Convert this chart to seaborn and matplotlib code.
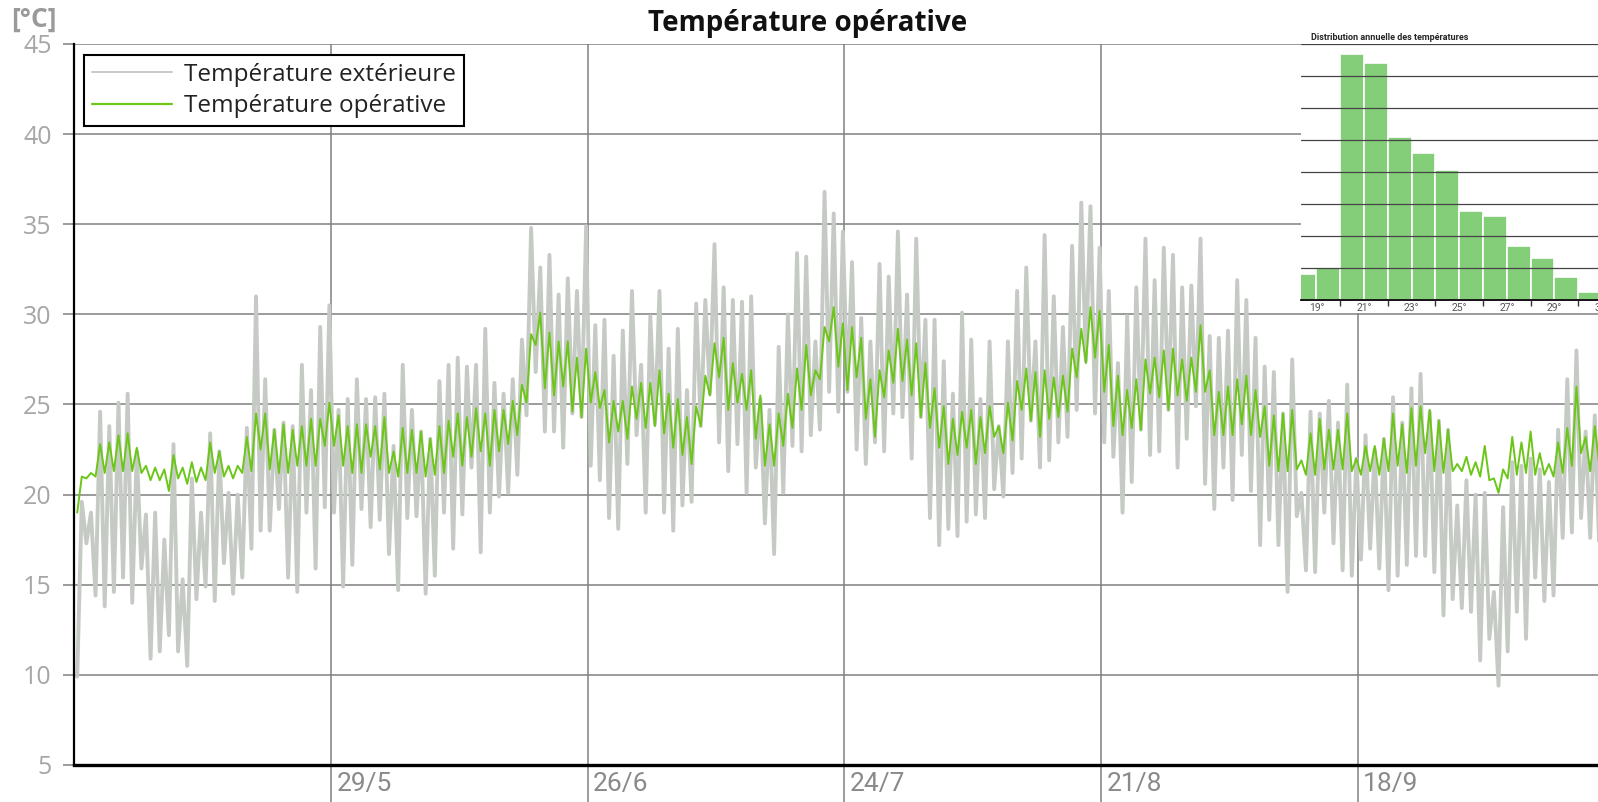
import numpy as np
import pandas as pd
import matplotlib
matplotlib.use('Agg')
import matplotlib.pyplot as plt
import matplotlib.transforms as mtransforms
from matplotlib.patches import Rectangle
from matplotlib.lines import Line2D
import seaborn as sns

# daily extremes, day 0 = 1 May
ext_min = [
    9.9, 17.3, 14.4, 13.8, 14.6, 15.4, 14.0, 15.9, 10.9, 11.3,
    12.2, 11.3, 10.5, 14.2, 14.9, 14.1, 16.2, 14.5, 15.4, 17.0,
    18.0, 18.0, 19.2, 15.4, 14.6, 19.0, 15.9, 19.3, 19.0, 14.9,
    16.1, 19.2, 18.2, 18.6, 16.7, 14.7, 18.7, 18.8, 14.5, 15.5,
    19.0, 17.0,
    18.9, 21.5, 16.8, 19.0, 19.9, 20.1, 21.1, 24.4, 26.8, 23.5,
    23.5, 22.6, 24.5, 24.3, 21.6, 20.8, 18.7, 18.1, 21.7, 23.3,
    19.0, 23.9, 19.0, 18.0, 19.4, 19.6, 23.8, 25.6, 22.9, 21.3,
    22.8, 20.1, 21.5, 18.4, 16.7, 20.1, 22.7, 22.4, 23.3, 23.6,
    25.7,
    24.6, 25.7, 22.5, 21.7, 22.9, 22.4, 24.5, 24.3, 22.0, 24.3,
    18.7, 17.2, 18.1, 17.7, 18.5, 18.9, 18.7, 20.3, 19.9, 21.2,
    22.0, 24.1, 21.5, 21.9, 22.9, 23.2, 24.7, 27.4, 24.5, 22.9,
    22.1, 19.0, 20.7, 23.6, 22.2, 22.4, 24.7, 21.5, 23.1, 24.9,
    20.6, 19.2,
    21.5, 19.7, 22.2, 20.2, 17.2, 18.6, 17.2, 14.6, 18.8, 15.8,
    15.7, 19.0, 17.3, 15.8, 15.5, 16.4, 17.0, 15.9, 14.7, 15.5,
    16.1, 16.6, 16.6, 15.7, 13.3, 14.2, 13.7, 13.5, 10.8, 12.0,
    9.4, 11.3, 13.5, 12.0, 15.4, 14.1, 14.4, 17.6, 17.9, 18.7,
    17.6, 16.8,
]
ext_max = [
    19.6, 19.0, 24.6, 23.8, 25.1, 25.6, 22.4, 18.9, 19.0, 17.5,
    22.8, 15.3, 20.9, 19.0, 23.4, 22.4, 20.1, 20.0, 23.7, 31.0,
    26.4, 23.6, 24.0, 23.8, 27.2, 25.8, 29.3, 30.5, 24.7, 25.3,
    26.4, 25.3, 25.4, 25.6, 22.7, 27.2, 24.7, 23.5, 23.1, 26.3,
    27.2, 27.6,
    27.1, 27.2, 29.2, 26.2, 25.6, 26.4, 28.6, 34.8, 32.6, 33.3,
    31.1, 32.0, 31.3, 34.9, 29.4, 29.7, 27.7, 29.1, 31.3, 27.2,
    29.9, 31.3, 28.1, 29.2, 25.8, 30.6, 30.8, 33.9, 31.5, 30.8,
    30.7, 31.0, 25.3, 24.7, 28.2, 30.0, 33.4, 33.2, 28.5, 36.8,
    35.6,
    34.6, 32.9, 29.8, 28.5, 32.8, 32.1, 34.6, 31.1, 34.2, 29.7,
    29.7, 27.4, 25.6, 30.1, 28.6, 25.3, 28.5, 23.8, 28.5, 31.3,
    32.6, 28.5, 34.4, 31.0, 29.3, 33.8, 36.2, 36.0, 33.7, 31.3,
    27.3, 29.9, 31.5, 34.2, 31.9, 33.7, 33.3, 31.5, 31.6, 34.2,
    28.8, 28.7,
    29.1, 31.9, 30.8, 28.7, 27.1, 26.8, 24.5, 27.5, 20.1, 24.6,
    24.5, 25.2, 24.0, 26.1, 22.0, 23.3, 22.5, 23.1, 25.4, 24.0,
    25.9, 26.7, 24.6, 24.1, 23.6, 19.4, 20.8, 20.0, 20.1, 14.6,
    19.3, 21.8, 21.6, 22.0, 21.4, 20.7, 23.6, 26.4, 28.0, 23.5,
    24.4, 22.0,
]
op_min = [
    19.0, 20.9, 21.0, 21.2, 21.3, 21.3, 21.3, 21.2, 20.8, 20.8,
    20.2, 20.9, 20.6, 20.7, 20.8, 21.2, 21.0, 20.9, 21.2, 21.3,
    22.5, 21.4, 21.2, 21.2, 21.6, 21.6, 21.6, 22.7, 22.7, 21.6,
    21.2, 21.2, 22.1, 21.4, 21.2, 21.0, 21.2, 21.2, 21.0, 21.1,
    21.2, 22.1,
    21.6, 22.1, 22.4, 21.6, 22.4, 22.8, 23.3, 25.1, 28.3, 25.9,
    25.5, 26.0, 24.6, 24.3, 25.1, 24.8, 22.9, 23.5, 23.1, 24.2,
    23.7, 23.8, 23.4, 22.6, 22.2, 21.7, 23.8, 25.5, 26.5, 24.7,
    25.1, 24.7, 23.1, 21.6, 21.6, 22.7, 23.7, 24.7, 25.5, 26.4,
    28.5,
    27.1, 25.8, 26.5, 24.2, 23.2, 25.4, 26.2, 26.3, 25.5, 24.3,
    23.7, 22.6, 21.7, 22.2, 22.6, 21.7, 22.3, 23.2, 22.3, 23.0,
    24.7, 24.1, 23.2, 24.2, 24.3, 24.6, 26.5, 27.3, 27.6, 25.7,
    23.8, 23.3, 23.7, 23.6, 25.6, 25.4, 24.7, 25.5, 25.2, 25.7,
    25.7, 23.3,
    23.3, 23.3, 23.9, 23.3, 23.2, 21.6, 21.3, 21.3, 21.4, 21.1,
    21.1, 21.4, 21.4, 21.4, 21.3, 21.1, 21.3, 21.1, 21.3, 21.6,
    21.2, 21.6, 22.3, 21.3, 21.2, 21.3, 21.3, 21.1, 21.0, 20.8,
    20.1, 20.9, 21.1, 21.2, 21.1, 21.1, 21.0, 21.2, 21.6, 22.3,
    21.3, 21.6,
]
op_max = [
    21.0, 21.2, 22.8, 22.9, 23.3, 23.4, 22.6, 21.6, 21.5, 21.4,
    22.2, 21.5, 21.8, 21.5, 22.9, 22.4, 21.6, 21.6, 23.2, 24.5,
    24.5, 23.6, 23.9, 23.6, 23.8, 24.2, 24.2, 25.1, 24.4, 23.8,
    23.9, 23.9, 23.8, 24.3, 22.4, 23.7, 23.6, 23.5, 23.1, 23.8,
    24.1, 24.5,
    24.3, 24.8, 24.5, 24.7, 24.7, 25.2, 26.1, 28.9, 30.1, 29.0,
    28.5, 28.5, 27.6, 28.1, 26.8, 25.8, 25.2, 25.2, 26.0, 26.2,
    26.2, 26.9, 25.6, 25.3, 24.3, 24.9, 26.6, 28.4, 28.7, 27.3,
    26.7, 26.9, 25.5, 23.9, 24.5, 25.6, 27.0, 28.3, 26.9, 29.3,
    30.4,
    29.5, 29.3, 28.7, 26.4, 26.9, 28.0, 29.2, 28.6, 28.4, 27.3,
    25.9, 24.9, 24.2, 24.6, 24.7, 24.3, 24.9, 23.8, 25.1, 26.3,
    27.0, 26.8, 26.9, 26.5, 26.6, 28.1, 29.2, 30.4, 30.2, 28.3,
    26.6, 25.8, 26.4, 27.5, 27.6, 28.0, 28.1, 27.5, 27.6, 29.4,
    26.9, 25.7,
    26.0, 26.4, 26.6, 25.8, 24.9, 24.4, 24.5, 24.7, 21.9, 23.4,
    24.2, 23.6, 23.6, 24.5, 22.0, 22.7, 22.7, 23.1, 24.5, 23.9,
    24.8, 24.9, 24.7, 24.1, 23.6, 21.7, 22.1, 21.8, 22.7, 20.9,
    21.4, 23.2, 22.9, 23.5, 22.3, 21.7, 22.9, 23.7, 26.0, 23.2,
    23.8, 23.0,
]

tick_dates = ['2023-05-29', '2023-06-26', '2023-07-24', '2023-08-21', '2023-09-18']
tick_labels = ['29/5', '26/6', '24/7', '21/8', '18/9']

# annual distribution inset (hours per 1 degree bin)
hist_left = [18, 19, 20, 21, 22, 23, 24, 25, 26, 27, 28, 29, 30, 31]
hist_hours = [80, 99, 768, 740, 508, 458, 406, 278, 263, 169, 130, 71, 26, 8]

label_ext = 'Température extérieure'
label_op = 'Température opérative'
c_ext = '#c6cac5'
c_op = '#6cc61a'

start = pd.Timestamp('2023-05-01')
rows = []
for d in range(len(ext_min)):
    t_lo = start + pd.Timedelta(days=d + 0.35)
    t_hi = start + pd.Timedelta(days=d + 0.85)
    rows.append((t_lo, ext_min[d], label_ext))
    rows.append((t_hi, ext_max[d], label_ext))
    rows.append((t_lo, op_min[d], label_op))
    rows.append((t_hi, op_max[d], label_op))
df = pd.DataFrame(rows, columns=['time', 'temp', 'serie'])

sns.set_theme(style='white')
plt.rcParams['font.family'] = ['Roboto', 'DejaVu Sans']

W, H = 1598, 802
fig = plt.figure(figsize=(W / 100, H / 100), dpi=100)
ax = fig.add_axes([74 / W, 1 - 765 / H, 1524 / W, 721 / H])

sns.lineplot(data=df[df['serie'] == label_ext], x='time', y='temp', color=c_ext,
             linewidth=2.8, estimator=None, ax=ax, zorder=2)
sns.lineplot(data=df[df['serie'] == label_op], x='time', y='temp', color=c_op,
             linewidth=1.4, estimator=None, ax=ax, zorder=3)

ax.set_xlim(start, start + pd.Timedelta(days=166.2))
ax.set_ylim(5, 45)
ax.set_yticks(range(5, 46, 5))
ax.set_xticks(pd.to_datetime(tick_dates))
ax.set_xticklabels(tick_labels)
ax.set_xlabel('')
ax.set_ylabel('')
ax.grid(True, color='#808080', linewidth=1.1)
ax.set_axisbelow(True)

for s in ['top', 'right']:
    ax.spines[s].set_visible(False)
ax.spines['left'].set_color('black')
ax.spines['left'].set_linewidth(1.6)
ax.spines['bottom'].set_color('black')
ax.spines['bottom'].set_linewidth(2.4)

ax.tick_params(axis='y', direction='out', length=8, width=1.1, color='#808080',
               labelsize=18, labelcolor='#a6a6a6', pad=8, left=True)
ax.tick_params(axis='x', direction='out', length=27, width=1.1, color='#808080',
               labelsize=19, labelcolor='#8a8a8a', pad=-22, bottom=True)
for lbl in ax.get_yticklabels():
    lbl.set_fontfamily(['Open Sans', 'DejaVu Sans'])
offset = mtransforms.ScaledTranslation(4 / 72, 0, fig.dpi_scale_trans)
for lbl in ax.get_xticklabels():
    lbl.set_horizontalalignment('left')
    lbl.set_transform(lbl.get_transform() + offset)

handles = [Line2D([], [], color=c_ext, lw=1.4), Line2D([], [], color=c_op, lw=1.6)]
leg = ax.legend(handles, [label_ext, label_op], loc='upper left',
                bbox_to_anchor=(84 / W, 1 - 55 / H), bbox_transform=fig.transFigure,
                borderaxespad=0, fancybox=False, framealpha=1,
                prop={'family': ['Open Sans', 'DejaVu Sans'], 'size': 17.5},
                handlelength=3.3, borderpad=0.32, labelspacing=0.3, handletextpad=0.5)
leg.get_frame().set_edgecolor('black')
leg.get_frame().set_linewidth(1.5)
for txt in leg.get_texts():
    txt.set_color('#222222')

fig.text(808 / W, 1 - 23 / H, 'Température opérative', ha='center', va='center',
         fontsize=20, fontweight='bold', color='#111111',
         family=['Open Sans', 'DejaVu Sans'])
fig.text(11 / W, 1 - 19 / H, '[°C]', ha='left', va='center', fontsize=19,
         fontweight='bold', color='#9a9a9a', family=['Open Sans', 'DejaVu Sans'])

# inset histogram
fig.patches.append(Rectangle((1301 / W, 1 - 313 / H), (W - 1301) / W, 14 / H,
                             transform=fig.transFigure, facecolor='white',
                             edgecolor='none', zorder=1))
x0, x1 = 18.35, 33.0
axin = fig.add_axes([1301 / W, 1 - 300 / H, (x1 - x0) * 23.8 / W, 256 / H], zorder=2)
axin.set_facecolor('white')
sns.histplot(x=[b + 0.5 for b in hist_left], weights=hist_hours,
             bins=hist_left + [hist_left[-1] + 1], color='#84cd79', edgecolor='white',
             linewidth=1.2, alpha=1, ax=axin)
axin.set_xlim(x0, x1)
axin.set_ylim(0, 800)
axin.set_yticks(range(0, 801, 100))
axin.set_yticklabels([])
axin.set_ylabel('')
axin.grid(True, axis='y', color='#444444', linewidth=0.9)
axin.grid(False, axis='x')
axin.set_axisbelow(False)
for s in ['top', 'right', 'left']:
    axin.spines[s].set_visible(False)
axin.spines['bottom'].set_color('black')
axin.spines['bottom'].set_linewidth(1.3)
axin.set_xticks(range(19, 33, 2))
axin.set_xticklabels([f'{v}°' for v in range(19, 33, 2)])
axin.set_xticks(range(20, 33, 2), minor=True)
axin.tick_params(axis='x', which='major', length=0, pad=2, labelsize=7.5, labelcolor='#555555')
axin.tick_params(axis='x', which='minor', length=4, width=1, color='#333333', bottom=True)
axin.tick_params(axis='y', length=0)
axin.set_title('Distribution annuelle des températures', loc='left', fontsize=6.5,
               fontweight='bold', pad=3, x=0.03)

fig.savefig('out.png', dpi=100)
